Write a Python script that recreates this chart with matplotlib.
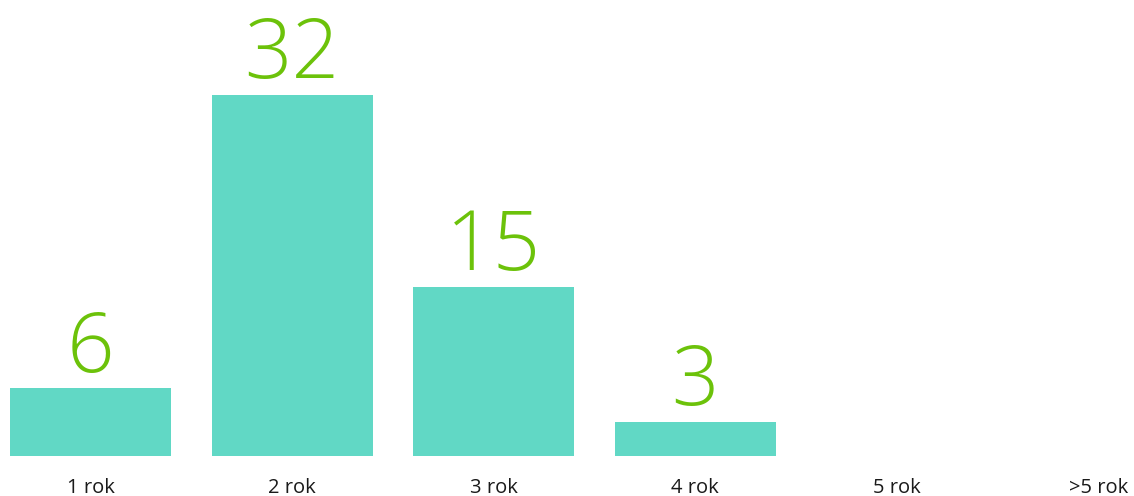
import matplotlib
matplotlib.use("Agg")
import matplotlib.pyplot as plt

categories = ["1 rok", "2 rok", "3 rok", "4 rok", "5 rok", ">5 rok"]
values = [6, 32, 15, 3, 0, 0]

plt.rcParams["font.family"] = ["Open Sans", "DejaVu Sans"]

fig = plt.figure(figsize=(11.34, 4.96), dpi=100)
ax = fig.add_axes([0, 40 / 496, 1, 456 / 496])

x = list(range(len(categories)))
ax.bar(x, values, width=0.8, color="#61d8c5")

for i, v in zip(x, values):
    if v > 0:
        ax.annotate(str(v), (i, v), xytext=(0, 12), textcoords="offset points",
                    ha="center", va="baseline", fontsize=60, color="#6cc20a",
                    fontweight="light")

ax.set_xlim(-0.45, 5.178)
ax.set_ylim(0, 40.4)
ax.set_xticks(x)
ax.set_xticklabels(categories, fontsize=14.5, color="#1a1a1a")
ax.tick_params(axis="x", length=0, pad=16)
ax.set_yticks([])
for s in ax.spines.values():
    s.set_visible(False)

fig.savefig("out.png", dpi=100)
